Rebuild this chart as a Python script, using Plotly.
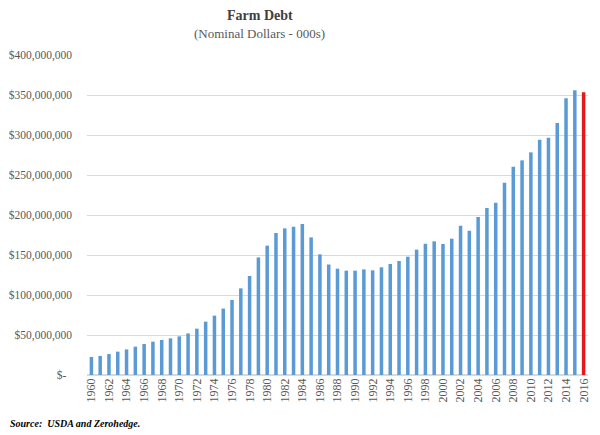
import plotly.graph_objects as go

years = list(range(1960, 2017))
debt_millions = [
    22.5, 23.8, 26.2, 29.2, 32.0, 35.4, 38.8, 41.7, 43.8, 45.8,
    48.3, 52.0, 57.9, 66.7, 74.2, 83.0, 93.8, 108.3, 123.8, 147.0,
    161.7, 177.5, 183.3, 185.4, 188.8, 172.0, 150.8, 138.1, 132.9, 130.4,
    130.4, 132.0, 130.8, 134.6, 138.8, 142.5, 147.9, 156.7, 164.2, 167.1,
    163.8, 170.4, 186.7, 180.4, 197.5, 208.8, 215.4, 240.4, 260.4, 268.3,
    278.3, 294.2, 296.7, 315.0, 345.8, 355.8, 353.3,
]
debt = [v * 1e6 for v in debt_millions]
highlight_year = 2016

y_tickvals = [i * 50e6 for i in range(9)]
y_ticktext = ["$-\u00a0\u00a0"] + ["${:,.0f}".format(v) for v in y_tickvals[1:]]
x_tickvals = [str(y) for y in years if y % 2 == 0]

cats = [str(y) for y in years]
colors = ["#E31A1C" if y == highlight_year else "#5B9BD5" for y in years]

fig = go.Figure(go.Bar(x=cats, y=debt, marker=dict(color=colors, line=dict(width=0))))

font_fam = "Liberation Serif, DejaVu Serif, serif"
fig.update_layout(
    width=592, height=427,
    margin=dict(l=79, r=12, t=47, b=60, autoexpand=False),
    paper_bgcolor="white", plot_bgcolor="white",
    bargap=0.6,
    showlegend=False,
    font=dict(family=font_fam, color="#595959", size=11.5),
    annotations=[
        dict(text="<b>Farm Debt</b>", xref="paper", yref="paper",
             x=0.345, y=1.122, xanchor="center", yanchor="middle", showarrow=False,
             font=dict(family=font_fam, size=14, color="#404040")),
        dict(text="(Nominal Dollars - 000s)", xref="paper", yref="paper",
             x=0.345, y=1.066, xanchor="center", yanchor="middle", showarrow=False,
             font=dict(family=font_fam, size=13, color="#595959")),
        dict(text="<b><i>Source:  USDA and Zerohedge.</i></b>",
             xref="paper", yref="paper", x=-0.158, y=-0.15,
             xanchor="left", yanchor="middle", showarrow=False,
             font=dict(family=font_fam, size=10, color="#000000")),
    ],
)
fig.update_yaxes(
    range=[0, 400e6], tickvals=y_tickvals, ticktext=y_ticktext,
    showgrid=True, gridcolor="#D9D9D9", gridwidth=1,
    zeroline=True, zerolinecolor="#D9D9D9", showline=False,
    ticks="", ticklabelstandoff=14,
)
fig.update_xaxes(
    type="category", tickvals=x_tickvals, ticktext=x_tickvals,
    tickangle=-90, showgrid=False, showline=False, ticks="",
    tickfont=dict(size=12),
)
fig.write_html("out.html")
